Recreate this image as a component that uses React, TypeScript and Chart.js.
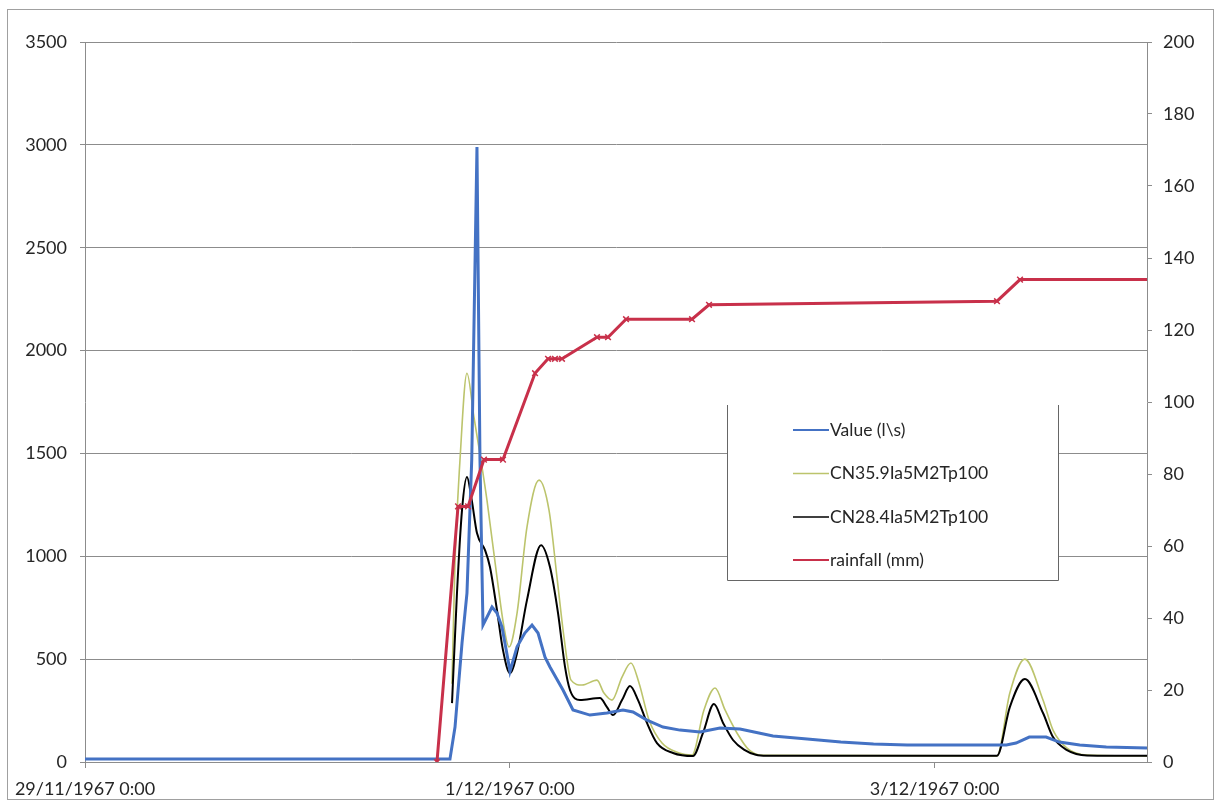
import React, { useEffect, useRef } from "react";
import { Chart, registerables } from "chart.js";

Chart.register(...registerables);

// X axis: hours since 29/11/1967 0:00
const xTickHours = [0, 48, 96];
const xTickLabels = ["29/11/1967 0:00", "1/12/1967 0:00", "3/12/1967 0:00"];

// Observed flow "Value (l\s)"
const valueHours = [0, 41.24, 41.81, 42.6, 43.16, 43.7, 44.29, 44.63, 44.97, 45.99, 46.55, 47.12, 47.8, 48.02, 48.82, 49.7, 50.51, 51.19, 51.98, 52.54, 54.01, 55.14, 57.06, 58.98, 60.79, 61.92, 63.5, 65.31, 67.23, 69.49, 71.75, 74.01, 77.74, 81.6, 85.4, 89.1, 92.9, 104.1, 105.2, 106.7, 108.6, 110.1, 112.4, 115.4, 120];
const valueFlow = [15, 15, 170, 578, 821, 1470, 2990, 1470, 665, 753, 724, 656, 496, 440, 560, 627, 666, 627, 510, 462, 350, 253, 228, 238, 253, 243, 204, 170, 155, 146, 165, 160, 126, 112, 97, 87, 83, 83, 92, 121, 121, 97, 83, 73, 68];

// Model CN35.9Ia5M2Tp100
const cn359Hours = [41.47, 41.81, 42.37, 43.16, 43.95, 44.74, 45.42, 46.55, 47.34, 47.91, 48.82, 49.94, 51.3, 52.43, 53.33, 54.12, 54.92, 56.16, 57.85, 58.64, 59.55, 60.68, 61.69, 62.6, 63.73, 65.2, 67.12, 68.59, 69.94, 71.19, 72.32, 73.67, 75.0, 76.6, 103.05, 104.5, 106.2, 108.25, 109.38, 110.96, 113.22, 120];
const cn359Flow = [380, 980, 1467, 1890, 1676, 1467, 1273, 899, 656, 559, 724, 1142, 1370, 1224, 899, 607, 398, 374, 398, 335, 301, 413, 481, 384, 204, 92, 44, 34, 253, 360, 253, 141, 60, 32, 30, 335, 500, 301, 155, 68, 34, 30];

// Model CN28.4Ia5M2Tp100
const cn284Hours = [41.47, 42.03, 42.6, 43.16, 43.7, 44.29, 45.2, 45.76, 46.55, 47.23, 48.02, 48.82, 49.94, 51.53, 52.54, 53.45, 54.24, 54.8, 55.93, 58.19, 58.98, 59.66, 60.68, 61.58, 62.49, 63.5, 64.63, 66.44, 68.7, 69.83, 71.07, 72.1, 73.22, 74.46, 75.8, 77.06, 103.05, 104.5, 106.2, 108.25, 109.38, 110.96, 113.22, 120];
const cn284Flow = [286, 820, 1224, 1385, 1273, 1113, 1030, 948, 739, 544, 432, 530, 787, 1054, 948, 724, 462, 350, 301, 311, 267, 228, 301, 369, 301, 190, 92, 44, 29, 141, 282, 190, 107, 60, 35, 30, 30, 267, 403, 238, 121, 58, 32, 30];

// Cumulative rainfall (mm), right axis
const rainHours = [39.77, 42.15, 43.28, 45.08, 47.23, 50.85, 52.32, 53.1, 53.9, 57.85, 59.1, 61.13, 68.59, 70.51, 103.05, 105.65, 120];
const rainMm = [0, 71, 71, 84, 84, 108, 112, 112, 112, 118, 118, 123, 123, 127, 128, 134, 134];

const leftTicks = { min: 0, max: 3500, step: 500 };
const rightTicks = { min: 0, max: 200, step: 20 };

const seriesNames = ["Value (l\\s)", "CN35.9Ia5M2Tp100", "CN28.4Ia5M2Tp100", "rainfall (mm)"];

const BLUE = "#4472C4";
const GREEN = "#BCC46C";
const BLACK = "#000000";
const RED = "#C8304A";
const FONT = 'Lato, "Open Sans", sans-serif';
const TEXT = "#262626";
const GRID = "#8c8c8c";

const pts = (xs: number[], ys: number[]) => xs.map((x, i) => ({ x, y: ys[i] }));

const frameLegendPlugin = {
  id: "frameLegend",
  beforeDraw(chart: any) {
    const { ctx, width, height } = chart;
    ctx.save();
    ctx.fillStyle = "#ffffff";
    ctx.fillRect(0, 0, width, height);
    ctx.strokeStyle = "#a0a0a0";
    ctx.lineWidth = 1;
    ctx.strokeRect(7.5, 9.5, width - 15, height - 11);
    ctx.restore();
  },
  afterDraw(chart: any) {
    const ctx = chart.ctx;
    const left = 727.5, right = 1058.5, top = 405, bottom = 580.5;
    ctx.save();
    ctx.fillStyle = "#ffffff";
    ctx.fillRect(left, top, right - left, bottom - top);
    ctx.strokeStyle = "#666666";
    ctx.lineWidth = 1;
    ctx.beginPath();
    ctx.moveTo(left, top);
    ctx.lineTo(left, bottom);
    ctx.lineTo(right, bottom);
    ctx.lineTo(right, top);
    ctx.stroke();
    const colors = [BLUE, GREEN, BLACK, RED];
    const widths = [2, 1.5, 1.5, 2];
    const ys = [430, 473.5, 517, 560];
    ctx.font = `17.5px ${FONT}`;
    ctx.textBaseline = "middle";
    ctx.textAlign = "left";
    seriesNames.forEach((name, i) => {
      ctx.strokeStyle = colors[i];
      ctx.lineWidth = widths[i];
      ctx.beginPath();
      ctx.moveTo(793, ys[i]);
      ctx.lineTo(829, ys[i]);
      ctx.stroke();
      ctx.fillStyle = TEXT;
      ctx.fillText(name, 830, ys[i]);
    });
    ctx.restore();
  },
};

export default function App() {
  const canvasRef = useRef<HTMLCanvasElement | null>(null);

  useEffect(() => {
    if (!canvasRef.current) return;
    const lastRain = rainHours.length - 1;
    const chart = new Chart(canvasRef.current, {
      type: "line",
      data: {
        datasets: [
          {
            label: seriesNames[3],
            data: pts(rainHours, rainMm),
            yAxisID: "y1",
            borderColor: RED,
            borderWidth: 3,
            pointStyle: "crossRot",
            pointRadius: (c: any) => (c.dataIndex === lastRain ? 0 : 4),
            pointBorderColor: RED,
            pointBorderWidth: 1.5,
            tension: 0,
          },
          {
            label: seriesNames[0],
            data: pts(valueHours, valueFlow),
            yAxisID: "y",
            borderColor: BLUE,
            borderWidth: 3,
            pointRadius: 0,
            tension: 0,
          },
          {
            label: seriesNames[2],
            data: pts(cn284Hours, cn284Flow),
            yAxisID: "y",
            borderColor: BLACK,
            borderWidth: 2,
            pointRadius: 0,
            cubicInterpolationMode: "monotone",
          },
          {
            label: seriesNames[1],
            data: pts(cn359Hours, cn359Flow),
            yAxisID: "y",
            borderColor: GREEN,
            borderWidth: 1.6,
            pointRadius: 0,
            cubicInterpolationMode: "monotone",
          },
        ],
      },
      options: {
        animation: false,
        responsive: true,
        maintainAspectRatio: false,
        layout: { padding: { left: 0, right: 0, top: 42, bottom: 0 } },
        plugins: { legend: { display: false }, tooltip: { enabled: false } },
        scales: {
          x: {
            type: "linear",
            position: "bottom",
            min: 0,
            max: 120,
            afterBuildTicks: (s: any) => {
              s.ticks = xTickHours.map((v) => ({ value: v }));
            },
            afterFit: (s: any) => {
              s.height = 39;
            },
            grid: { drawOnChartArea: false, tickLength: 6, color: GRID },
            border: { display: true, color: GRID },
            ticks: {
              autoSkip: false,
              maxRotation: 0,
              padding: 10,
              color: TEXT,
              font: { family: FONT, size: 18 },
              callback: (v: any) => {
                const i = xTickHours.indexOf(Number(v));
                return i >= 0 ? xTickLabels[i] : "";
              },
            },
          },
          y: {
            position: "left",
            min: leftTicks.min,
            max: leftTicks.max,
            afterFit: (s: any) => {
              s.width = 85;
            },
            grid: { color: GRID, tickLength: 5 },
            border: { display: true, color: GRID },
            ticks: {
              stepSize: leftTicks.step,
              padding: 13,
              color: TEXT,
              font: { family: FONT, size: 18 },
              callback: (v: any) => String(v),
            },
          },
          y1: {
            position: "right",
            min: rightTicks.min,
            max: rightTicks.max,
            afterFit: (s: any) => {
              s.width = 74;
            },
            grid: { drawOnChartArea: false, color: GRID, tickLength: 5 },
            border: { display: true, color: GRID },
            ticks: {
              stepSize: rightTicks.step,
              padding: 11,
              color: TEXT,
              font: { family: FONT, size: 18 },
              callback: (v: any) => String(v),
            },
          },
        },
      } as any,
      plugins: [frameLegendPlugin],
    });
    return () => chart.destroy();
  }, []);

  return (
    <div style={{ position: "absolute", left: 0, top: 0, width: 1221, height: 801 }}>
      <canvas ref={canvasRef} />
    </div>
  );
}
